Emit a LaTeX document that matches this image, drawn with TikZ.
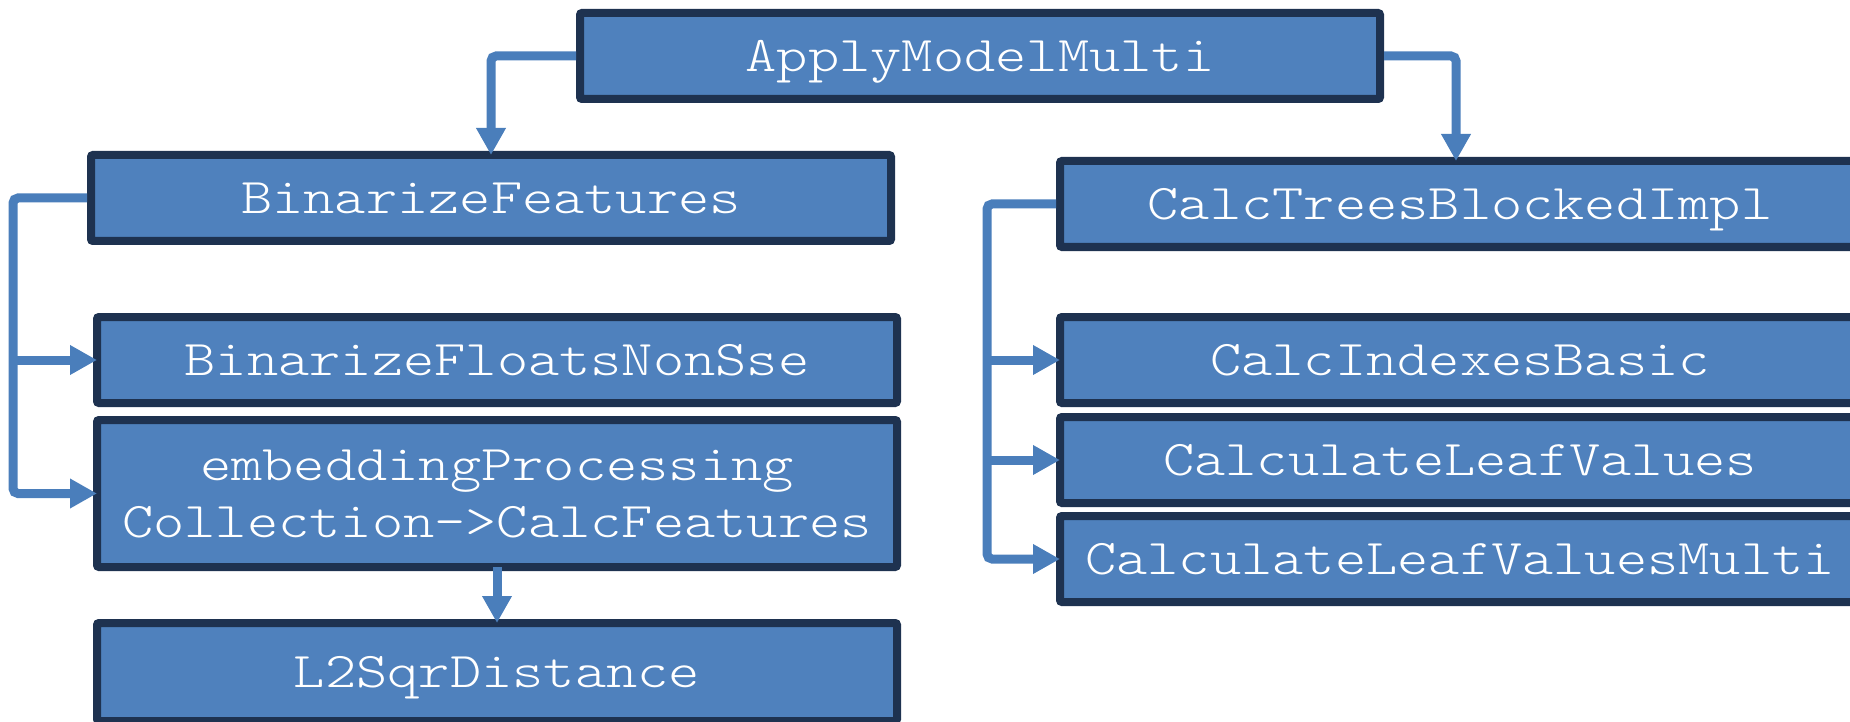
\documentclass[tikz,border=0pt]{standalone}
\usepackage{graphicx}
\usetikzlibrary{arrows.meta,calc}
\definecolor{boxfill}{HTML}{4F81BD}
\definecolor{boxline}{HTML}{1E3250}
\definecolor{linkblue}{HTML}{4A7EBB}
% widened typewriter label
\newcommand{\fn}[1]{\scalebox{1.19}[1]{#1}}
\begin{document}
\begin{tikzpicture}[x=1pt,y=-1pt,
  fbox/.style={draw=boxline, line width=8pt, fill=boxfill, rounded corners=2pt,
    minimum width=800pt, minimum height=86pt, inner sep=0pt, outer sep=0pt,
    text=white, font=\fontsize{50}{57}\fontseries{l}\ttfamily\selectfont, align=center,
    text height=30.5pt, text depth=0pt},
  conn/.style={draw=linkblue, line width=9pt, rounded corners=5pt,
    -{Triangle[length=27pt,width=28pt]}, shorten <=4pt},
  branch/.style={conn, shorten <=0pt, rounded corners=0pt},
]
\useasboundingbox (0,0) rectangle (1850,722);

% left column
\node[fbox] (apply) at (980,56) {\fn{ApplyModelMulti}};
\node[fbox] (binf) at (491,198) {\fn{BinarizeFeatures}};
\node[fbox] (bfns) at (497,360) {\fn{BinarizeFloatsNonSse}};
\node[fbox, minimum height=147pt, text height=87.5pt] (emb) at (497,493.5)
  {\fn{embeddingProcessing}\\\fn{Collection->CalcFeatures}};
\node[fbox, minimum height=98pt] (l2) at (497,672) {\fn{L2SqrDistance}};

% right column
\node[fbox] (ctbi) at (1460,204) {\fn{CalcTreesBlockedImpl}};
\node[fbox] (cib)  at (1460,360) {\fn{CalcIndexesBasic}};
\node[fbox] (clv)  at (1460,460) {\fn{CalculateLeafValues}};
\node[fbox] (clvm) at (1460,559) {\fn{CalculateLeafValuesMulti}};

% buses
\coordinate (lbus) at (13,0);
\coordinate (rbus) at (987,0);

% connectors
\draw[conn] (apply.west) -| (binf.north);
\draw[conn] (apply.east) -| ([xshift=-4pt]ctbi.north);

\draw[conn] (binf.west) -| (lbus |- emb.west) -- (emb.west);
\draw[branch] (lbus |- bfns.west) -- (bfns.west);
\draw[conn, shorten <=0pt] (emb.south) -- (l2.north);

\draw[conn] (ctbi.west) -| (rbus |- clvm.west) -- (clvm.west);
\draw[branch] (rbus |- cib.west) -- (cib.west);
\draw[branch] (rbus |- clv.west) -- (clv.west);
\end{tikzpicture}
\end{document}
